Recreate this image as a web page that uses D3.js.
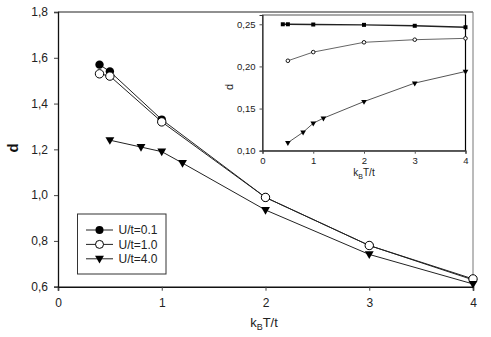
<!DOCTYPE html>
<html>
<head>
<meta charset="utf-8">
<script src="https://cdn.jsdelivr.net/npm/d3@7"></script>
<style>
  body { margin: 0; background: #fff; }
  svg { display: block; font-family: "Liberation Sans", Arial, sans-serif; }
</style>
</head>
<body>
<svg id="chart" width="491" height="337"></svg>
<script>
// main panel data
var mainX1 = [0.4, 0.5, 1, 2, 3, 4];
var mainY1 = [1.57, 1.54, 1.33, 0.99, 0.78, 0.63];
var mainX2 = [0.4, 0.5, 1, 2, 3, 4];
var mainY2 = [1.53, 1.52, 1.32, 0.99, 0.78, 0.634];
var mainX3 = [0.5, 0.8, 1, 1.2, 2, 3, 4];
var mainY3 = [1.24, 1.21, 1.19, 1.14, 0.935, 0.741, 0.612];
var seriesNames = ["U/t=0.1", "U/t=1.0", "U/t=4.0"];

// inset data
var insetX1 = [0.4, 0.5, 1, 2, 3, 4];
var insetY1 = [0.25, 0.25, 0.2497, 0.2493, 0.2482, 0.2465];
var insetX2 = [0.5, 1, 2, 3, 4];
var insetY2 = [0.2067, 0.2170, 0.2286, 0.2317, 0.2333];
var insetX3 = [0.5, 0.8, 1, 1.2, 2, 3, 4];
var insetY3 = [0.1095, 0.1219, 0.1326, 0.1386, 0.1583, 0.1802, 0.1940];

var mainXTicks = [0, 1, 2, 3, 4];
var mainYTicks = [0.6, 0.8, 1.0, 1.2, 1.4, 1.6, 1.8];
var insetXTicks = [0, 1, 2, 3, 4];
var insetYTicks = [0.10, 0.15, 0.20, 0.25];

function zip(xs, ys) {
  return xs.map(function(x, i) { return [x, ys[i]]; });
}
function comma(fmt) {
  var f = d3.format(fmt);
  return function(d) { return f(d).replace(".", ","); };
}

var svg = d3.select("#chart");

// ---------- main panel ----------
var x = d3.scaleLinear().domain([0, 4]).range([58, 473]);
var y = d3.scaleLinear().domain([0.6, 1.8]).range([286.7, 12]);

// frame top / right
svg.append("line").attr("x1", 58).attr("x2", 473).attr("y1", 12).attr("y2", 12)
  .attr("stroke", "#222").attr("stroke-width", 1.2);
svg.append("line").attr("x1", 473).attr("x2", 473).attr("y1", 12).attr("y2", 286.7)
  .attr("stroke", "#777").attr("stroke-width", 1);

var xAxis = svg.append("g")
  .attr("transform", "translate(0,286.7)")
  .call(d3.axisBottom(x).tickValues(mainXTicks).tickFormat(d3.format("d")).tickSizeOuter(0).tickSize(4).tickPadding(8));
var yAxis = svg.append("g")
  .attr("transform", "translate(58,0)")
  .call(d3.axisLeft(y).tickValues(mainYTicks).tickFormat(comma(".1f")).tickSizeOuter(0).tickSize(4).tickPadding(6));
[xAxis, yAxis].forEach(function(g) {
  g.selectAll("text").attr("font-size", 12).attr("fill", "#222").attr("font-family", null);
  g.selectAll("line").attr("stroke", "#444");
  g.select(".domain").attr("stroke", "#111").attr("stroke-width", 1.3);
});
xAxis.select(".domain").attr("stroke-width", 1.6);

// axis titles
var xt = svg.append("text").attr("x", 264).attr("y", 327).attr("text-anchor", "middle")
  .attr("font-size", 13).attr("fill", "#222");
xt.append("tspan").text("k");
xt.append("tspan").attr("font-size", 9).attr("dy", 3).text("B");
xt.append("tspan").attr("dy", -3).text("T/t");

svg.append("text").attr("transform", "translate(18,148) rotate(-90)")
  .attr("text-anchor", "middle").attr("font-size", 15).attr("font-weight", "bold")
  .attr("fill", "#111").text("d");

var line = d3.line().x(function(d) { return x(d[0]); }).y(function(d) { return y(d[1]); });

var mainSeries = [zip(mainX1, mainY1), zip(mainX2, mainY2), zip(mainX3, mainY3)];
mainSeries.forEach(function(s, i) {
  svg.append("path").datum(s).attr("d", line)
    .attr("fill", "none").attr("stroke", "#222").attr("stroke-width", 1);
});

function drawMarker(g, kind, cx, cy, r) {
  if (kind === 0) {
    g.append("circle").attr("cx", cx).attr("cy", cy).attr("r", r).attr("fill", "#000");
  } else if (kind === 1) {
    g.append("circle").attr("cx", cx).attr("cy", cy).attr("r", r)
      .attr("fill", "#fff").attr("stroke", "#000").attr("stroke-width", 1);
  } else {
    g.append("path").attr("d", d3.symbol().type(d3.symbolTriangle).size(34)())
      .attr("transform", "translate(" + cx + "," + (cy - 0.5) + ") rotate(180)")
      .attr("fill", "#000");
  }
}

var markers = svg.append("g");
mainSeries.forEach(function(s, i) {
  s.forEach(function(d) {
    drawMarker(markers, i, x(d[0]), y(d[1]), 4.2);
  });
});

// legend
var legend = svg.append("g");
legend.append("rect").attr("x", 77.5).attr("y", 214).attr("width", 88.5).attr("height", 60)
  .attr("fill", "#fff").attr("stroke", "#333").attr("stroke-width", 1);
seriesNames.forEach(function(name, i) {
  var ly = 230 + i * 14.4;
  legend.append("line").attr("x1", 86).attr("x2", 113).attr("y1", ly).attr("y2", ly)
    .attr("stroke", "#222").attr("stroke-width", 1);
  drawMarker(legend, i, 99.5, ly, 4);
  legend.append("text").attr("x", 118.5).attr("y", ly + 4.2).attr("font-size", 12)
    .attr("fill", "#222").text(name);
});

// ---------- inset ----------
var ix = d3.scaleLinear().domain([0, 4]).range([262.5, 465.5]);
var iy = d3.scaleLinear().domain([0.10, 0.261]).range([150.7, 15]);

svg.append("rect").attr("x", 262.5).attr("y", 15).attr("width", 203).attr("height", 135.7)
  .attr("fill", "#fff").attr("stroke", "#555").attr("stroke-width", 1);
svg.append("line").attr("x1", 465.5).attr("x2", 465.5).attr("y1", 15).attr("y2", 150.7)
  .attr("stroke", "#000").attr("stroke-width", 1.2);

var ixAxis = svg.append("g").attr("transform", "translate(0,150.7)")
  .call(d3.axisBottom(ix).tickValues(insetXTicks).tickFormat(d3.format("d")).tickSizeOuter(0).tickSize(3).tickPadding(4));
var iyAxis = svg.append("g").attr("transform", "translate(262.5,0)")
  .call(d3.axisLeft(iy).tickValues(insetYTicks).tickFormat(comma(".2f")).tickSizeOuter(0).tickSize(3).tickPadding(4));
[ixAxis, iyAxis].forEach(function(g) {
  g.selectAll("text").attr("font-size", 9.5).attr("fill", "#222").attr("font-family", null);
  g.selectAll("line").attr("stroke", "#555");
  g.select(".domain").attr("stroke", "#333").attr("stroke-width", 1.2);
});

var ixt = svg.append("text").attr("x", 364).attr("y", 176).attr("text-anchor", "middle")
  .attr("font-size", 10).attr("fill", "#222");
ixt.append("tspan").text("k");
ixt.append("tspan").attr("font-size", 7).attr("dy", 2.5).text("B");
ixt.append("tspan").attr("dy", -2.5).text("T/t");

svg.append("text").attr("transform", "translate(233,87) rotate(-90)")
  .attr("text-anchor", "middle").attr("font-size", 11).attr("fill", "#222").text("d");

var iline = d3.line().x(function(d) { return ix(d[0]); }).y(function(d) { return iy(d[1]); });
var insetSeries = [zip(insetX1, insetY1), zip(insetX2, insetY2), zip(insetX3, insetY3)];
var insetStroke = ["#222", "#666", "#555"];
insetSeries.forEach(function(s, i) {
  svg.append("path").datum(s).attr("d", iline)
    .attr("fill", "none").attr("stroke", insetStroke[i]).attr("stroke-width", i === 0 ? 1.4 : 1);
});
var imarkers = svg.append("g");
insetSeries.forEach(function(s, i) {
  s.forEach(function(d) {
    var cx = ix(d[0]), cy = iy(d[1]);
    if (i === 0) {
      imarkers.append("rect").attr("x", cx - 2).attr("y", cy - 2).attr("width", 4).attr("height", 4).attr("fill", "#000");
    } else if (i === 1) {
      imarkers.append("circle").attr("cx", cx).attr("cy", cy).attr("r", 1.8)
        .attr("fill", "#fff").attr("stroke", "#000").attr("stroke-width", 0.9);
    } else {
      imarkers.append("path").attr("d", d3.symbol().type(d3.symbolTriangle).size(14)())
        .attr("transform", "translate(" + cx + "," + cy + ") rotate(180)").attr("fill", "#000");
    }
  });
});
</script>
</body>
</html>
